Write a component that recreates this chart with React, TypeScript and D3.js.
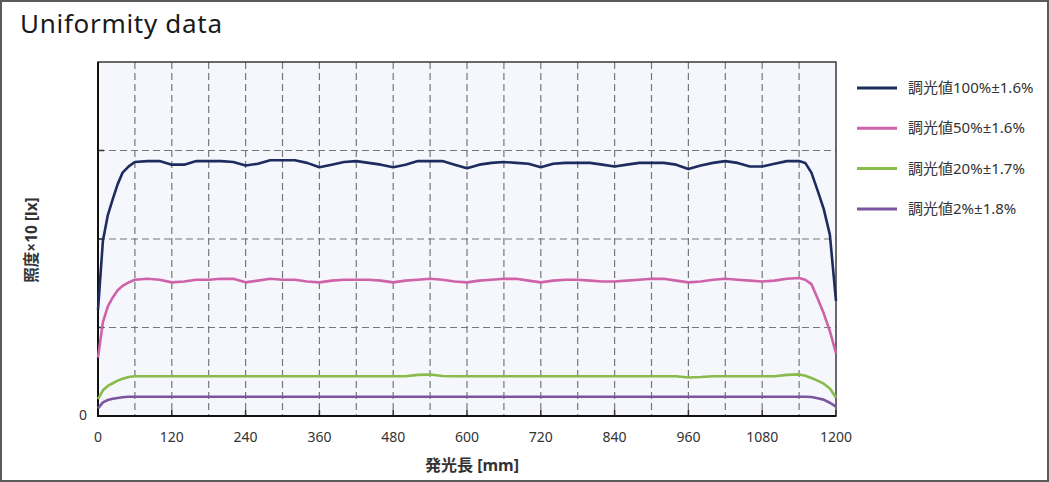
import React from "react";
import * as d3 from "d3";

const positions = [0, 8, 16, 24, 32, 40, 50, 60, 80, 100, 120, 140, 160, 180, 200, 220, 240, 260, 280, 300, 320, 340, 360, 380, 400, 420, 440, 460, 480, 500, 520, 540, 560, 580, 600, 620, 640, 660, 680, 700, 720, 740, 760, 780, 800, 820, 840, 860, 880, 900, 920, 940, 960, 980, 1000, 1020, 1040, 1060, 1080, 1100, 1120, 1140, 1150, 1160, 1170, 1180, 1190, 1200];

const dim100 = [1.20, 1.98, 2.27, 2.45, 2.62, 2.75, 2.82, 2.87, 2.88, 2.88, 2.84, 2.84, 2.88, 2.88, 2.88, 2.87, 2.83, 2.85, 2.89, 2.89, 2.89, 2.86, 2.81, 2.84, 2.87, 2.88, 2.86, 2.84, 2.81, 2.84, 2.88, 2.88, 2.88, 2.84, 2.80, 2.84, 2.86, 2.87, 2.86, 2.85, 2.81, 2.85, 2.86, 2.86, 2.86, 2.84, 2.82, 2.84, 2.86, 2.86, 2.86, 2.84, 2.79, 2.83, 2.86, 2.88, 2.86, 2.82, 2.82, 2.85, 2.88, 2.88, 2.86, 2.75, 2.55, 2.34, 2.05, 1.30];

const dim50 = [0.66, 1.06, 1.24, 1.34, 1.42, 1.47, 1.51, 1.54, 1.55, 1.54, 1.51, 1.52, 1.54, 1.54, 1.55, 1.55, 1.51, 1.53, 1.55, 1.54, 1.54, 1.52, 1.51, 1.53, 1.54, 1.54, 1.54, 1.53, 1.51, 1.53, 1.54, 1.55, 1.54, 1.52, 1.51, 1.53, 1.54, 1.55, 1.55, 1.53, 1.51, 1.53, 1.54, 1.54, 1.53, 1.52, 1.52, 1.53, 1.54, 1.55, 1.55, 1.53, 1.51, 1.52, 1.54, 1.55, 1.54, 1.53, 1.52, 1.53, 1.55, 1.56, 1.54, 1.49, 1.33, 1.16, 0.96, 0.71];

const dim20 = [0.19, 0.29, 0.34, 0.37, 0.40, 0.42, 0.44, 0.45, 0.45, 0.45, 0.45, 0.45, 0.45, 0.45, 0.45, 0.45, 0.45, 0.45, 0.45, 0.45, 0.45, 0.45, 0.45, 0.45, 0.45, 0.45, 0.45, 0.45, 0.45, 0.45, 0.465, 0.468, 0.452, 0.45, 0.45, 0.45, 0.45, 0.45, 0.45, 0.45, 0.45, 0.45, 0.45, 0.45, 0.45, 0.45, 0.45, 0.45, 0.45, 0.45, 0.45, 0.45, 0.435, 0.44, 0.45, 0.45, 0.45, 0.45, 0.45, 0.45, 0.465, 0.47, 0.455, 0.43, 0.40, 0.365, 0.31, 0.21];

const dim2 = [0.087, 0.153, 0.181, 0.194, 0.203, 0.211, 0.217, 0.218, 0.218, 0.218, 0.218, 0.218, 0.218, 0.218, 0.218, 0.218, 0.218, 0.218, 0.218, 0.218, 0.218, 0.218, 0.218, 0.218, 0.218, 0.218, 0.218, 0.218, 0.218, 0.218, 0.218, 0.218, 0.218, 0.218, 0.218, 0.218, 0.218, 0.218, 0.218, 0.218, 0.218, 0.218, 0.218, 0.218, 0.218, 0.218, 0.218, 0.218, 0.218, 0.218, 0.218, 0.218, 0.218, 0.218, 0.218, 0.218, 0.218, 0.218, 0.218, 0.218, 0.218, 0.218, 0.218, 0.215, 0.20, 0.185, 0.15, 0.105];

const seriesNames = ["調光値100%±1.6%", "調光値50%±1.6%", "調光値20%±1.7%", "調光値2%±1.8%"];
const seriesValues = [dim100, dim50, dim20, dim2];
const seriesColors = ["#1d2b5e", "#cf63a9", "#88bb4a", "#7b56a0"];

const xTicks = [0, 120, 240, 360, 480, 600, 720, 840, 960, 1080, 1200];
const xGrid = d3.range(60, 1200, 60);
const yGrid = [1, 2, 3];

export default function App() {
  const W = 1049, H = 482;
  const L = 98, R = 836, T = 62, B = 416;
  const x = d3.scaleLinear().domain([0, 1200]).range([L, R]);
  const y = d3.scaleLinear().domain([0, 4]).range([B, T]);
  const line = d3.line<number>().x((_, i) => x(positions[i])).y((v) => y(v));
  const font = "'Noto Sans', 'Noto Sans CJK JP', sans-serif";

  return (
    <svg width={W} height={H} style={{ position: "absolute", left: 0, top: 0, background: "#fff" }} fontFamily={font}>
      <rect x={1} y={1} width={W - 2} height={H - 2} fill="#fff" stroke="#5a5a5a" strokeWidth={2} />
      <text x={20} y={33} fontSize={26} fill="#1a1a1a" fontWeight={400} letterSpacing={0.7}>Uniformity data</text>

      <rect x={L} y={T} width={R - L} height={B - T} fill="#f5f7fc" />
      {xGrid.map((g) => (
        <line key={"vx" + g} x1={x(g)} x2={x(g)} y1={T} y2={B} stroke="#777" strokeWidth={1.2} strokeDasharray="7,4" />
      ))}
      {yGrid.map((g) => (
        <line key={"hy" + g} x1={L} x2={R} y1={y(g)} y2={y(g)} stroke="#777" strokeWidth={1.2} strokeDasharray="7,4" />
      ))}
      {yGrid.map((g) => (
        <line key={"ty" + g} x1={L} x2={L + 6} y1={y(g)} y2={y(g)} stroke="#333" strokeWidth={1.5} />
      ))}
      {xTicks.map((t) => (
        <line key={"tx" + t} x1={x(t)} x2={x(t)} y1={B} y2={B - 6} stroke="#333" strokeWidth={1.5} />
      ))}
      <rect x={L} y={T} width={R - L} height={B - T} fill="none" stroke="#3a3a3a" strokeWidth={1.5} />
      <line x1={L} x2={L} y1={T} y2={B + 1} stroke="#111" strokeWidth={2} />
      <line x1={L - 1} x2={R} y1={B} y2={B} stroke="#111" strokeWidth={2} />

      {seriesValues.map((vals, i) => (
        <path key={"s" + i} d={line(vals) || ""} fill="none" stroke={seriesColors[i]} strokeWidth={2.6} strokeLinejoin="round" />
      ))}

      {xTicks.map((t) => (
        <text key={"lx" + t} x={x(t)} y={442} textAnchor="middle" fontSize={14} fill="#333">{t}</text>
      ))}
      <text x={L - 11} y={B + 4} textAnchor="end" fontSize={14} fill="#333">0</text>

      <text x={472} y={471} textAnchor="middle" fontSize={16} fontWeight="bold" fill="#333">発光長 [mm]</text>
      <text transform={`translate(37, 240) rotate(-90)`} textAnchor="middle" fontSize={15.5} fontWeight="bold" fill="#333">照度×10 [lx]</text>

      {seriesNames.map((n, i) => (
        <g key={"lg" + i} transform={`translate(0, ${88 + i * 40.3})`}>
          <line x1={857} x2={897} y1={0} y2={0} stroke={seriesColors[i]} strokeWidth={3} />
          <text x={908} y={5} fontSize={15} fill="#333">{n}</text>
        </g>
      ))}
    </svg>
  );
}
